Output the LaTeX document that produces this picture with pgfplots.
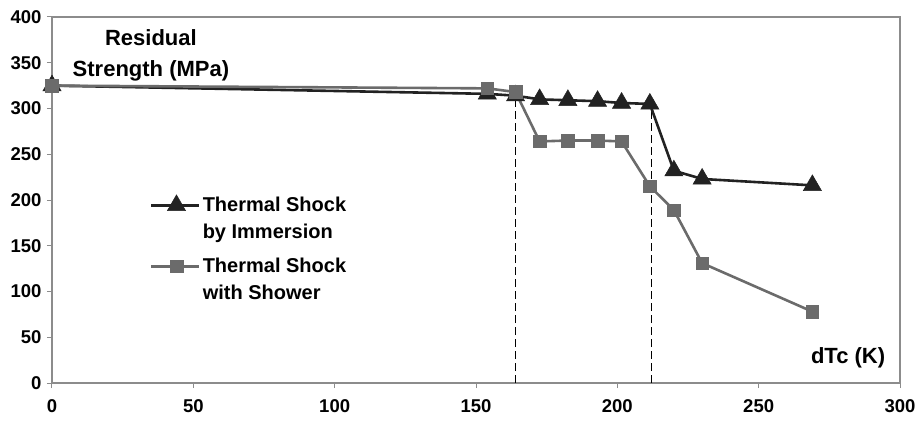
\documentclass[border=0pt]{standalone}
\usepackage{pgfplots}
\pgfplotsset{compat=1.18}
\usepackage{fontspec}
\setmainfont{Liberation Sans}
\definecolor{immcol}{HTML}{222222}
\definecolor{shwcol}{HTML}{6B6B6B}
\definecolor{framecol}{HTML}{8C8C8C}
\begin{document}
\begin{tikzpicture}
\begin{axis}[
    scale only axis,
    width=848pt, height=366pt,
    xmin=0, xmax=300, ymin=0, ymax=400,
    xtick={0,50,...,300}, ytick={0,50,...,400},
    axis line style={framecol, line width=1.2pt},
    tick style={framecol, line width=1pt},
    tick align=outside, major tick length=5pt,
    xtick pos=bottom, ytick pos=left,
    /pgf/number format/assume math mode=true,
    ticklabel style={font=\fontsize{18.5}{20}\selectfont\bfseries, text=black},
    xticklabel style={yshift=-8pt},
    yticklabel style={xshift=-2pt},
    clip=false,
    legend style={draw=none, fill=none, at={(rel axis cs:0.112,0.52)}, anchor=north west,
        font=\fontsize{20}{27}\selectfont\bfseries, row sep=14pt,
        cells={align=left}},
    legend cell align=left,
    legend image code/.code={
        \draw[#1, yshift=13.5pt, mark repeat=2, mark phase=2] plot coordinates {(0pt,0pt) (25pt,0pt) (48pt,0pt)};
    },
]
% dashed guide lines
\addplot[black, line width=1.5pt, dash pattern=on 8pt off 4pt, forget plot] coordinates {(164,0) (164,318)};
\addplot[black, line width=1.5pt, dash pattern=on 8pt off 4pt, forget plot] coordinates {(212,0) (212,305)};

% Thermal shock by immersion
\addplot[immcol, line width=2.6pt, mark=triangle*, mark size=10.5pt,
    mark options={solid, fill=immcol, line width=0.5pt}]
    coordinates {
        (0,325) (154,316) (164,314) (172.5,310) (182.5,309) (193,308)
        (201.5,306) (211.5,305) (220,232) (230,223) (269,216)
    };
\addlegendentry{Thermal Shock\\by Immersion}

% Thermal shock with shower
\addplot[shwcol, line width=2.6pt, mark=square*, mark size=6.3pt,
    mark options={solid, fill=shwcol, line width=0.5pt}]
    coordinates {
        (0,325) (154,322) (164,318) (172.5,264) (182.5,265) (193,265)
        (201.5,264) (211.5,215) (220,189) (230,131) (269,78)
    };
\addlegendentry{Thermal Shock\\with Shower}

\node[align=center, font=\fontsize{22}{31}\selectfont\bfseries] at (axis cs:35,358)
    {Residual\\Strength (MPa)};
\node[anchor=east, font=\fontsize{22}{26}\selectfont\bfseries] at (axis cs:296,28) {dTc (K)};
\end{axis}
\pgfresetboundingbox
\path (current axis.south west) ++(-52pt,-37pt) coordinate (bl);
\path (current axis.north east) ++(19pt,17pt) coordinate (tr);
\path[use as bounding box] (bl) rectangle (tr);
\end{tikzpicture}
\end{document}
